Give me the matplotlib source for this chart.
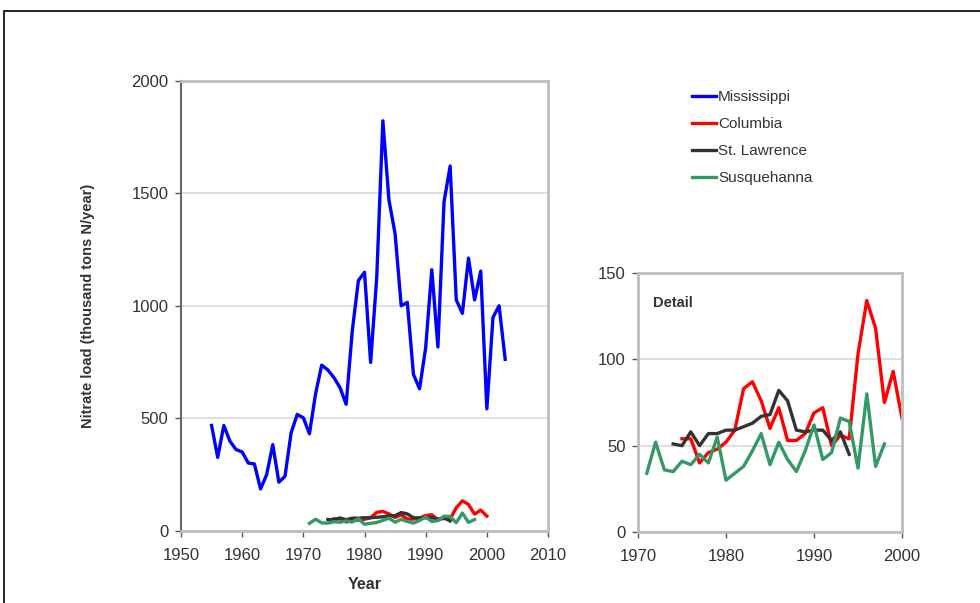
import matplotlib.pyplot as plt
from matplotlib.patches import Rectangle

plt.rcParams['font.family'] = ['Liberation Sans', 'DejaVu Sans']

# Mississippi annual nitrate load, 1955-2003
miss_years = list(range(1955, 2004))
miss_load = [469, 327, 469, 399, 362, 351, 302, 298, 187, 250,
             384, 217, 243, 436, 518, 503, 432, 610, 737, 716,
             682, 637, 563, 890, 1113, 1150, 749, 1128, 1823, 1470,
             1321, 1001, 1016, 696, 632, 815, 1161, 818, 1463, 1622,
             1027, 967, 1213, 1027, 1155, 543, 949, 1001, 763]

# Columbia, 1975-2000
col_years = list(range(1975, 2001))
col_load = [54, 54, 40, 46, 48, 52, 59, 83, 87, 76,
            60, 72, 53, 53, 57, 69, 72, 50, 56, 54,
            103, 134, 118, 75, 93, 66]

# St. Lawrence, 1974-1994
stl_years = list(range(1974, 1995))
stl_load = [51, 50, 58, 50, 57, 57, 59, 59, 61, 63,
            67, 68, 82, 76, 59, 58, 59, 59, 53, 58, 45]

# Susquehanna, 1971-1998
sus_years = list(range(1971, 1999))
sus_load = [34, 52, 36, 35, 41, 39, 45, 40, 55, 30,
            34, 38, 47, 57, 39, 52, 42, 35, 47, 62,
            42, 46, 66, 64, 37, 80, 38, 51]

series = [
    ('Mississippi', miss_years, miss_load, '#0000ff'),
    ('Columbia', col_years, col_load, '#ff0000'),
    ('St. Lawrence', stl_years, stl_load, '#333333'),
    ('Susquehanna', sus_years, sus_load, '#339966'),
]

fig = plt.figure(figsize=(9.8, 6.03), dpi=100)

# outer frame of the figure
fig.patches.append(Rectangle((3.5 / 980, -0.05), 1.2, 1 - 11.5 / 603 + 0.05,
                             transform=fig.transFigure, fill=False,
                             edgecolor='black', linewidth=1.2))

text_col = '#333333'


def style_axes(ax, left_col):
    ax.grid(axis='y', color='#d9d9d9', linewidth=1.2)
    ax.set_axisbelow(True)
    for side in ['top', 'right', 'bottom']:
        ax.spines[side].set_color('#bdbdbd')
        ax.spines[side].set_linewidth(2.0)
    ax.spines['left'].set_color(left_col)
    ax.spines['left'].set_linewidth(1.5 if left_col != '#bdbdbd' else 2.0)
    ax.tick_params(direction='out', length=4, width=1, color='#555555',
                   labelsize=12, labelcolor=text_col)
    ax.tick_params(axis='x', pad=8)
    ax.tick_params(axis='y', pad=5)


# main chart
ax1 = fig.add_axes([0.1847, 0.1194, 0.3745, 0.7463])
for name, yrs, vals, col in series:
    ax1.plot(yrs, vals, color=col, linewidth=2.4, label=name)
ax1.set_xlim(1950, 2010)
ax1.set_ylim(0, 2000)
ax1.set_xticks(range(1950, 2011, 10))
ax1.set_yticks(range(0, 2001, 500))
style_axes(ax1, '#666666')
ax1.set_xlabel('Year', fontsize=11.5, fontweight='bold', color=text_col,
               labelpad=10)
ax1.set_ylabel('Nitrate load (thousand tons N/year)', fontsize=10.5,
               fontweight='bold', color=text_col, labelpad=26)

# detail chart
ax2 = fig.add_axes([0.651, 0.1177, 0.2694, 0.4296])
for name, yrs, vals, col in series[1:]:
    ax2.plot(yrs, vals, color=col, linewidth=2.4)
ax2.set_xlim(1970, 2000)
ax2.set_ylim(0, 150)
ax2.set_xticks(range(1970, 2001, 10))
ax2.set_yticks(range(0, 151, 50))
style_axes(ax2, '#bdbdbd')
ax2.text(0.055, 0.87, 'Detail', transform=ax2.transAxes, fontsize=10.5,
         fontweight='bold', color=text_col)

# legend
handles, labels = ax1.get_legend_handles_labels()
leg = fig.legend(handles, labels, loc='upper left',
                 bbox_to_anchor=(0.692, 0.873), frameon=False, fontsize=11,
                 handlelength=1.55, handletextpad=0.15, labelspacing=0.85)
for t in leg.get_texts():
    t.set_color(text_col)

plt.savefig('out.png', dpi=100)
